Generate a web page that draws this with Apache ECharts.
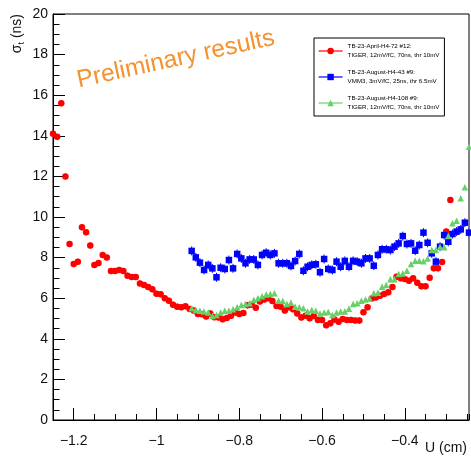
<!DOCTYPE html>
<html>
<head>
<meta charset="utf-8">
<script src="https://cdn.jsdelivr.net/npm/echarts@6.0.0/dist/echarts.min.js"></script>
<style>
  html, body { margin: 0; padding: 0; background: #fff; }
  #chart { width: 471px; height: 456px; }
</style>
</head>
<body>
<div id="chart"></div>
<script>
// sigma_t vs U position, three test-beam runs
const redX = [-1.25, -1.24, -1.23, -1.22, -1.21, -1.20, -1.19, -1.18, -1.17, -1.16,
  -1.15, -1.14, -1.13, -1.12, -1.11, -1.10, -1.09, -1.08, -1.07, -1.06,
  -1.05, -1.04, -1.03, -1.02, -1.01, -1.00, -0.99, -0.98, -0.97, -0.96,
  -0.95, -0.94, -0.93, -0.92, -0.91, -0.90, -0.89, -0.88, -0.87, -0.86,
  -0.85, -0.84, -0.83, -0.82, -0.81, -0.80, -0.79, -0.78, -0.77, -0.76,
  -0.75, -0.74, -0.73, -0.72, -0.71, -0.70, -0.69, -0.68, -0.67, -0.66,
  -0.65, -0.64, -0.63, -0.62, -0.61, -0.60, -0.59, -0.58, -0.57, -0.56,
  -0.55, -0.54, -0.53, -0.52, -0.51, -0.50, -0.49, -0.48, -0.47, -0.46,
  -0.45, -0.44, -0.43, -0.42, -0.41, -0.40, -0.39, -0.38, -0.37, -0.36,
  -0.35, -0.34, -0.33, -0.32, -0.31, -0.30, -0.29];
const redY = [14.1, 13.95, 15.6, 12.0, 8.67, 7.68, 7.8, 9.49, 9.25, 8.59,
  7.64, 7.73, 8.13, 8.0, 7.34, 7.34, 7.39, 7.34, 7.11, 7.04,
  7.04, 6.73, 6.65, 6.55, 6.44, 6.22, 6.19, 6.0, 5.88, 5.68,
  5.58, 5.56, 5.6, 5.47, 5.4, 5.22, 5.21, 5.1, 5.25, 5.06,
  5.05, 4.96, 5.03, 5.13, 5.3, 5.22, 5.27, 5.65, 5.68, 5.53,
  5.84, 5.93, 6.0, 5.86, 5.62, 5.58, 5.4, 5.55, 5.46, 5.25,
  5.05, 5.14, 5.01, 5.12, 4.93, 4.93, 4.67, 4.76, 4.95, 4.84,
  4.97, 4.93, 4.93, 4.9, 4.9, 5.31, 5.55, 5.99, 6.04, 6.12,
  6.21, 6.29, 6.55, 7.06, 6.98, 6.95, 6.86, 6.98, 6.76, 6.59,
  6.59, 7.01, 7.47, 7.47, 7.78, 9.28, 10.84];

const augX = [-0.915, -0.905, -0.895, -0.885, -0.875, -0.865, -0.855, -0.845, -0.835, -0.825,
  -0.815, -0.805, -0.795, -0.785, -0.775, -0.765, -0.755, -0.745, -0.735, -0.725,
  -0.715, -0.705, -0.695, -0.685, -0.675, -0.665, -0.655, -0.645, -0.635, -0.625,
  -0.615, -0.605, -0.595, -0.585, -0.575, -0.565, -0.555, -0.545, -0.535, -0.525,
  -0.515, -0.505, -0.495, -0.485, -0.475, -0.465, -0.455, -0.445, -0.435, -0.425,
  -0.415, -0.405, -0.395, -0.385, -0.375, -0.365, -0.355, -0.345, -0.335, -0.325,
  -0.315, -0.305, -0.295, -0.285, -0.275, -0.265, -0.255, -0.245];
const blueY = [8.33, 8.01, 7.75, 7.39, 7.64, 7.47, 7.03, 7.50, 7.44, 7.88,
  7.47, 8.18, 7.96, 7.72, 7.91, 7.91, 7.64, 8.13, 8.24, 8.13,
  8.21, 7.72, 7.72, 7.72, 7.59, 7.83, 8.18, 7.35, 7.55, 7.64,
  7.67, 7.28, 7.93, 7.44, 7.39, 7.80, 7.55, 7.84, 7.55, 7.84,
  7.80, 7.72, 7.96, 7.96, 7.60, 8.13, 8.41, 8.41, 8.37, 8.54,
  8.70, 9.06, 8.67, 8.70, 8.34, 8.62, 9.23, 8.73, 8.21, 7.80,
  8.54, 9.11, 8.78, 9.16, 9.28, 9.39, 9.72, 9.23];
const greenY = [5.50, 5.42, 5.38, 5.34, 5.29, 5.12, 5.17, 5.29, 5.38, 5.38,
  5.45, 5.55, 5.67, 5.71, 5.75, 5.91, 6.00, 6.10, 6.18, 6.21,
  6.24, 5.88, 5.86, 5.71, 5.78, 5.58, 5.55, 5.50, 5.34, 5.42,
  5.38, 5.25, 5.29, 5.32, 5.17, 5.29, 5.34, 5.35, 5.48, 5.71,
  5.75, 5.88, 5.94, 5.99, 6.24, 6.27, 6.57, 6.65, 6.93, 6.93,
  7.19, 7.22, 7.35, 7.68, 7.85, 7.85, 7.82, 7.96, 8.37, 8.37,
  8.54, 8.51, 9.06, 9.69, 9.82, 10.92, 11.46, 13.46];

const redErr = 0.15;
const blueErr = 0.22;
const greenErr = 0.1;

const names = ['april', 'aug43', 'aug108'];
const legendText = {
  april: 'TB-23-April-H4-72 #12:\nTIGER, 12mV/fC, 70ns, thr 10mV',
  aug43: 'TB-23-August-H4-43 #9:\nVMM3, 3mV/fC, 25ns, thr 6.5mV',
  aug108: 'TB-23-August-H4-108 #9:\nTIGER, 12mV/fC, 70ns, thr 10mV'
};
const majorTicks = [-1.2, -1, -0.8, -0.6, -0.4];

const FONT = 'Liberation Sans, Arial, Helvetica, sans-serif';

function pairs(xs, ys) { return xs.map((x, i) => [x, ys[i]]); }
function withErr(xs, ys, e) { return xs.map((x, i) => [x, ys[i], e]); }

function errBar(params, api) {
  const x = api.value(0), y = api.value(1), e = api.value(2);
  const lo = api.coord([x, y - e]);
  const hi = api.coord([x, y + e]);
  return {
    type: 'line',
    shape: { x1: lo[0], y1: lo[1], x2: hi[0], y2: hi[1] },
    style: { stroke: api.visual('color'), lineWidth: 1 }
  };
}

const chart = echarts.init(document.getElementById('chart'));

const markSeries = (name, xs, ys, color, symbol) => ({
  name: name,
  type: 'line',
  data: pairs(xs, ys),
  symbol: symbol,
  symbolSize: 6.5,
  showSymbol: true,
  itemStyle: { color: color },
  lineStyle: { width: 0, opacity: 0 },
  z: 3
});
const errSeries = (xs, ys, e, color) => ({
  type: 'custom',
  data: withErr(xs, ys, e),
  renderItem: errBar,
  itemStyle: { color: color },
  clip: true,
  z: 2
});

chart.setOption({
  animation: false,
  backgroundColor: '#fff',
  grid: { left: 53, right: 2, top: 14, bottom: 36, show: true, borderColor: '#000', borderWidth: 1 },
  xAxis: [{
    type: 'value', min: -1.25, max: -0.245,
    axisLine: { lineStyle: { color: '#000', width: 1 } },
    axisTick: { inside: true, length: 12, customValues: majorTicks, lineStyle: { color: '#000' } },
    axisLabel: {
      customValues: majorTicks, margin: 14, fontSize: 14, color: '#111', fontFamily: FONT,
      formatter: v => String(v).replace('-', '\u2212')
    },
    splitLine: { show: false }
  }, {
    type: 'value', min: -1.25, max: -0.245, interval: 0.05, position: 'bottom',
    axisLine: { show: false },
    axisTick: { inside: true, length: 6, lineStyle: { color: '#000' } },
    axisLabel: { show: false },
    splitLine: { show: false }
  }],
  yAxis: {
    type: 'value', min: 0, max: 20, interval: 2,
    axisLine: { show: true, lineStyle: { color: '#000', width: 1 } },
    axisTick: { show: true, inside: true, length: 12, lineStyle: { color: '#000' } },
    minorTick: { show: true, splitNumber: 4, length: 6.5, lineStyle: { color: '#000' } },
    axisLabel: { margin: 5, fontSize: 14, color: '#111', fontFamily: FONT },
    splitLine: { show: false }
  },
  legend: {
    orient: 'vertical', left: 314, top: 38,
    padding: [4, 5, 4, 4], itemWidth: 24, itemHeight: 8, itemGap: 8,
    borderColor: '#000', borderWidth: 1, backgroundColor: '#fff',
    lineStyle: { width: 1.2, opacity: 1 },
    textStyle: { fontSize: 6.2, lineHeight: 9, color: '#000', fontFamily: FONT },
    data: names,
    formatter: n => legendText[n]
  },
  graphic: [
    {
      type: 'text', x: 17, y: 14, rotation: Math.PI / 2,
      style: {
        text: '{a|\u03c3}{s|t}{a| (ns)}', align: 'right', verticalAlign: 'middle',
        fill: '#111',
        rich: {
          a: { fontSize: 14, fontFamily: FONT, fill: '#111', lineHeight: 18, verticalAlign: 'middle' },
          s: { fontSize: 9, fontFamily: FONT, fill: '#111', lineHeight: 18, verticalAlign: 'bottom' }
        }
      }
    },
    {
      type: 'text', x: 467, y: 448,
      style: { text: 'U (cm)', align: 'right', verticalAlign: 'middle', fontSize: 14, fontFamily: FONT, fill: '#111' }
    },
    {
      type: 'text', x: 80, y: 93, rotation: 0.215,
      style: { text: 'Preliminary results', align: 'left', verticalAlign: 'bottom', fontSize: 24.5, fontFamily: FONT, fill: '#f5922f' }
    }
  ],
  series: [
    errSeries(redX, redY, redErr, '#ff0000'),
    errSeries(augX, blueY, blueErr, '#0000ff'),
    errSeries(augX, greenY, greenErr, '#66d166'),
    markSeries('april', redX, redY, '#ff0000', 'circle'),
    markSeries('aug43', augX, blueY, '#0000ff', 'rect'),
    markSeries('aug108', augX, greenY, '#66d166', 'triangle')
  ]
});
</script>
</body>
</html>
